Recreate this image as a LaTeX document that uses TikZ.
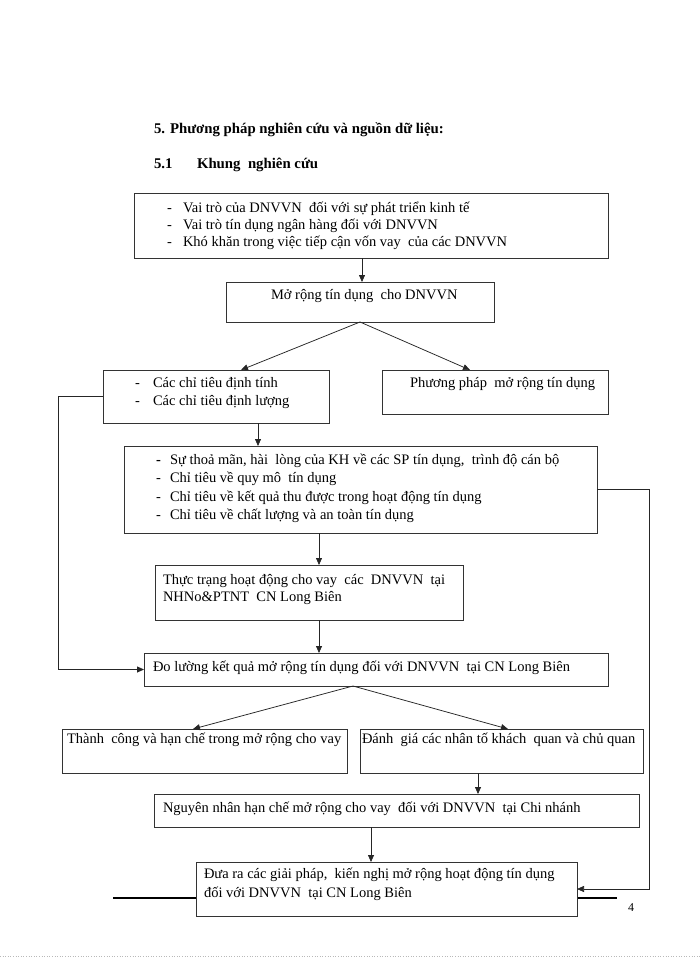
\documentclass[tikz,border=0pt]{standalone}
\usepackage{fontspec}
\setmainfont{Liberation Serif}
\usetikzlibrary{arrows.meta}
\begin{document}
\begin{tikzpicture}[x=1pt,y=-1pt,
  box/.style={draw=black!80, line width=0.9pt, fill=white, inner sep=0pt, outer sep=0pt, anchor=north west},
  txt/.style={anchor=base west, inner sep=0pt, outer sep=0pt, font=\fontsize{14.5}{17}\selectfont},
  hd/.style={anchor=base west, inner sep=0pt, outer sep=0pt, font=\bfseries\fontsize{14.8}{17}\selectfont},
  arr/.style={draw=black!85, line width=0.75pt, -{Triangle[length=7pt,width=6pt]}},
  ln/.style={draw=black!85, line width=0.75pt}]
\useasboundingbox (0,0) rectangle (700,960);
\fill[white] (0,0) rectangle (700,960);

% headings
\node[hd] (h1) at (154,134) {5. Phương pháp nghiên cứu và nguồn dữ liệu:};
\node[hd] (h2a) at (154,169) {5.1};
\node[hd] (h2b) at (197,169) {Khung\ \ nghiên cứu};

% footer rule (behind last box)
\draw[line width=1.4pt] (113,898) coordinate (fl) -- (617,898) coordinate (fr);
\node[txt, font=\fontsize{12}{14}\selectfont] (pg) at (628,911) {4};
\draw[gray!55, dotted, line width=0.6pt] (0,956) coordinate (dl) -- (700,956) coordinate (dr);

% boxes
\node[box, minimum width=474pt, minimum height=65pt] (b1) at (134,193) {};
\node[box, minimum width=268pt, minimum height=40pt] (b2) at (226,282) {};
\node[box, minimum width=226pt, minimum height=53pt] (b3) at (103,370) {};
\node[box, minimum width=226pt, minimum height=44pt] (b4) at (382,370) {};
\node[box, minimum width=473pt, minimum height=87pt] (b5) at (124,446) {};
\node[box, minimum width=308pt, minimum height=55pt] (b6) at (155,565) {};
\node[box, minimum width=464pt, minimum height=33pt] (b7) at (144,653) {};
\node[box, minimum width=285pt, minimum height=44pt] (b8) at (62,729) {};
\node[box, minimum width=283pt, minimum height=44pt] (b9) at (360,729) {};
\node[box, minimum width=485pt, minimum height=33pt] (b10) at (154,794) {};
\node[box, minimum width=381pt, minimum height=54pt] (b11) at (196,862) {};

% box texts
\node[txt] (d1a) at (167,212) {-};
\node[txt] (t1a) at (183,212) {Vai trò của DNVVN\ \ đối với sự phát triển kinh tế};
\node[txt] (d1b) at (167,229) {-};
\node[txt] (t1b) at (183,229) {Vai trò tín dụng ngân hàng đối với DNVVN};
\node[txt] (d1c) at (167,246) {-};
\node[txt] (t1c) at (183,246) {Khó khăn trong việc tiếp cận vốn vay\ \ của các DNVVN};

\node[txt] (t2) at (271,299) {Mở rộng tín dụng\ \ cho DNVVN};

\node[txt] (d3a) at (135,387) {-};
\node[txt] (t3a) at (153,387) {Các chỉ tiêu định tính};
\node[txt] (d3b) at (135,405) {-};
\node[txt] (t3b) at (153,405) {Các chỉ tiêu định lượng};

\node[txt] (t4) at (410,387) {Phương pháp\ \ mở rộng tín dụng};

\node[txt, font=\bfseries\fontsize{14.5}{17}\selectfont] (d5a) at (156,464) {-};
\node[txt] (t5a) at (170,464) {Sự thoả mãn, hài\ \ lòng của KH về các SP tín dụng,\ \ trình độ cán bộ};
\node[txt] (d5b) at (156,482) {-};
\node[txt] (t5b) at (170,482) {Chỉ tiêu về quy mô\ \ tín dụng};
\node[txt] (d5c) at (156,501) {-};
\node[txt] (t5c) at (170,501) {Chỉ tiêu về kết quả thu được trong hoạt động tín dụng};
\node[txt] (d5d) at (156,519) {-};
\node[txt] (t5d) at (170,519) {Chỉ tiêu về chất lượng và an toàn tín dụng};

\node[txt] (t6a) at (163,584) {Thực trạng hoạt động cho vay\ \ các\ \ DNVVN\ \ tại};
\node[txt] (t6b) at (163,601) {NHNo\&PTNT\ \ CN Long Biên};

\node[txt] (t7) at (153,671) {Đo lường kết quả mở rộng tín dụng đối với DNVVN\ \ tại CN Long Biên};

\node[txt] (t8) at (67,743) {Thành\ \ công và hạn chế trong mở rộng cho vay};
\node[txt] (t9) at (362,743) {Đánh\ \ giá các nhân tố khách\ \ quan và chủ quan};

\node[txt] (t10) at (163,812) {Nguyên nhân hạn chế mở rộng cho vay\ \ đối với DNVVN\ \ tại Chi nhánh};

\node[txt] (t11a) at (204,878) {Đưa ra các giải pháp,\ \ kiến nghị mở rộng hoạt động tín dụng};
\node[txt] (t11b) at (204,897) {đối với DNVVN\ \ tại CN Long Biên};

% anchor helpers on box edges
\coordinate (a2) at ([xshift=2pt]b2.north);
\coordinate (a5) at ([xshift=155pt]b3.south west);
\coordinate (a6) at ([xshift=10pt]b6.north);
\coordinate (a7) at ([xshift=209pt]b7.south west);
\coordinate (a10) at ([xshift=118pt]b9.south west);
\coordinate (a11) at ([xshift=175pt]b11.north west);

% connectors
\draw[arr] (a2 |- b1.south) -- (a2);
\draw[arr] (b2.south) -- ([xshift=138pt]b3.north west);
\draw[arr] (b2.south) -- ([xshift=88pt]b4.north west);
\draw[arr] (a5) -- (a5 |- b5.north);
\draw[arr] (a6 |- b5.south) -- (a6);
\draw[arr] (a6 |- b6.south) -- (a6 |- b7.north);
\draw[arr] (a7) -- ([xshift=131pt]b8.north west);
\draw[arr] (a7) -- ([xshift=148pt]b9.north west);
\draw[arr] (a10) -- (a10 |- b10.north);
\draw[arr] (a11 |- b10.south) -- (a11);
\draw[arr] (b3.west) -- ++(-45,0) |- (b7.west);
\draw[arr] (b5.east) -- ++(52,0) |- (b11.east);
\end{tikzpicture}
\end{document}
